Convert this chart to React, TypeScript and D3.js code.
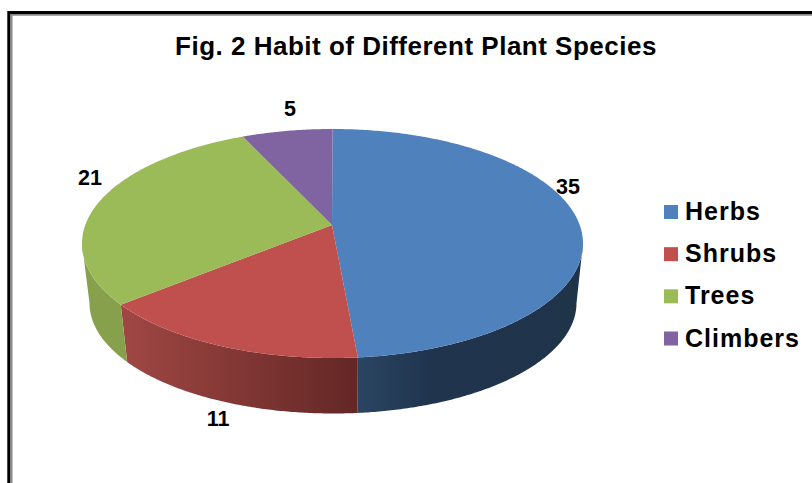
import React from "react";
import * as d3 from "d3";

const categories = ["Herbs", "Shrubs", "Trees", "Climbers"];
const values = [35, 11, 21, 5];
const topColors = ["#4f81bd", "#c0504d", "#9bbb59", "#8064a2"];
const title = "Fig. 2 Habit of Different Plant Species";

const W = 812, H = 483;
const FONT = "'Liberation Sans', Arial, sans-serif";

// view: the pie is seen in perspective
const top = { cx: 332.5, cy: 243.5, rx: 250.5, ry: 114.5 };
const bottom = { cx: 333, cy: 303, rx: 243.5, ry: 110.5 };
const apex = { x: 332, y: 225 };
// how the true slice angle is warped by the perspective
const warp = d3.scaleLinear<number>()
  .domain([0, 175, 230, 335, 360].map((d) => (d * Math.PI) / 180))
  .range([0, 174.2, 237.7, 339, 360].map((d) => (d * Math.PI) / 180));

const pt = (e: typeof top, a: number): [number, number] => [
  e.cx + e.rx * Math.sin(a),
  e.cy - e.ry * Math.cos(a),
];
const arcPts = (e: typeof top, a0: number, a1: number) => {
  const n = Math.max(2, Math.ceil(Math.abs(a1 - a0) / 0.01));
  return d3.range(n + 1).map((i) => pt(e, a0 + ((a1 - a0) * i) / n));
};
const line = d3.line();

const slices = d3.pie<number>().sort(null).value((d) => d)(values).map((s) => ({
  ...s,
  a0: warp(s.startAngle),
  a1: warp(s.endAngle),
}));

const sideStops: [string, [number, string][]][] = [
  ["side0", [[0, "#2a4562"], [0.32, "#20344e"], [1, "#1f3349"]]],
  ["side1", [[0, "#a04744"], [1, "#632725"]]],
  ["side2", [[0, "#86a04c"], [1, "#86a04c"]]],
];

const labels = [
  { text: "35", x: 568, y: 186 },
  { text: "11", x: 218, y: 418 },
  { text: "21", x: 90, y: 177 },
  { text: "5", x: 290, y: 108 },
];
const legendY = d3.scalePoint<string>().domain(categories).range([212, 338.5]);

export default function App() {
  const sideRange = (i: number): [number, number] | null => {
    const lo = Math.max(slices[i].a0, Math.PI / 2);
    const hi = Math.min(slices[i].a1, (3 * Math.PI) / 2);
    return lo < hi ? [lo, hi] : null;
  };
  return (
    <svg width={W} height={H} style={{ position: "fixed", left: 0, top: 0, background: "#fff" }}>
      <defs>
        {sideStops.map(([id, stops], i) => {
          const r = sideRange(i)!;
          const xs = [pt(top, r[0])[0], pt(top, r[1])[0]];
          return (
            <linearGradient key={id} id={id} gradientUnits="userSpaceOnUse"
              x1={Math.min(xs[0], xs[1])} x2={Math.max(xs[0], xs[1])} y1={0} y2={0}>
              {stops.map(([o, c]) => <stop key={o} offset={o} stopColor={c} />)}
            </linearGradient>
          );
        })}
      </defs>
      <path d="M812 14.6H11.3V483" fill="none" stroke="#8a8a8a" strokeWidth={2.4} />
      <path d="M812 12.5H8.7V483" fill="none" stroke="#000" strokeWidth={2.8} />
      <text x={416} y={54.5} textAnchor="middle" fontFamily={FONT} fontWeight="bold" fontSize={26} letterSpacing={0.5}>{title}</text>

      {slices.map((s, i) => {
        const r = sideRange(i);
        if (!r) return null;
        const d = line([...arcPts(top, r[0], r[1]), ...arcPts(bottom, r[1], r[0])]) + "Z";
        return <path key={i} d={d} fill={`url(#side${i})`} />;
      })}
      {slices.map((s, i) => (
        <path key={i} d={line([[apex.x, apex.y], ...arcPts(top, s.a0, s.a1)])! + "Z"} fill={topColors[i]} />
      ))}

      {labels.map((l) => (
        <text key={l.text} x={l.x} y={l.y} dy="0.35em" textAnchor="middle" fontFamily={FONT} fontWeight="bold" fontSize={21.5}>{l.text}</text>
      ))}
      {categories.map((c, i) => (
        <g key={c}>
          <rect x={664} y={legendY(c)! - 7} width={14} height={14} fill={topColors[i]} />
          <text x={685} y={legendY(c)! + 8} fontFamily={FONT} fontWeight="bold" fontSize={25} letterSpacing={1}>{c}</text>
        </g>
      ))}
    </svg>
  );
}
